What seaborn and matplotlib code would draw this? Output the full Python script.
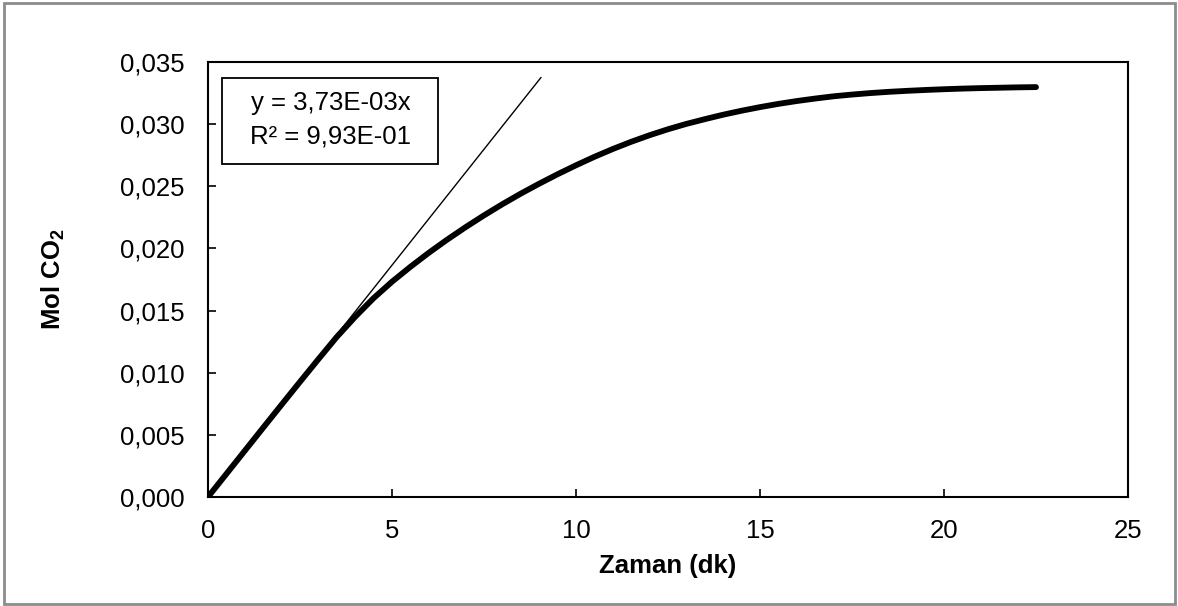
import numpy as np
import pandas as pd
import matplotlib
matplotlib.use("Agg")
import matplotlib.pyplot as plt
import seaborn as sns
from matplotlib.ticker import FuncFormatter, MultipleLocator
from matplotlib.patches import Rectangle

sns.set_theme(style="white")
plt.rcParams['font.family'] = ['Liberation Sans', 'DejaVu Sans']
plt.rcParams['mathtext.fontset'] = 'custom'
plt.rcParams['mathtext.rm'] = 'Liberation Sans'
plt.rcParams['mathtext.bf'] = 'Liberation Sans:bold'

# zaman (dk) ve mol CO2 degerleri
zaman = [0, 0.5, 1, 1.5, 2, 2.5, 3, 3.5, 4, 4.5, 5, 5.5, 6, 6.5, 7, 7.5, 8, 8.5,
         9, 9.5, 10, 10.5, 11, 11.5, 12, 12.5, 13, 13.5, 14, 14.5, 15, 15.5, 16,
         16.5, 17, 17.5, 18, 18.5, 19, 19.5, 20, 20.5, 21, 21.5, 22, 22.5]
mol_co2 = [0, 0.00186, 0.00372, 0.00558, 0.00743, 0.00927, 0.01109, 0.01288,
           0.01450, 0.01600, 0.01732, 0.01852, 0.01965, 0.02071, 0.02171,
           0.02266, 0.02356, 0.02441, 0.02521, 0.02597, 0.02669, 0.02737,
           0.02800, 0.02858, 0.02911, 0.02959, 0.03002, 0.03040, 0.03076,
           0.03108, 0.03137, 0.03163, 0.03186, 0.03206, 0.03224, 0.03238,
           0.03250, 0.03260, 0.03268, 0.03275, 0.03281, 0.03286, 0.03290,
           0.03293, 0.03296, 0.03298]

# baslangic egimi (trend cizgisi)
trend_x = [0, 9.05]
trend_y = [0, 0.03376]
denklem = ["y = 3,73E-03x", "R² = 9,93E-01"]

df = pd.DataFrame({"zaman": zaman, "mol": mol_co2})
df_trend = pd.DataFrame({"zaman": trend_x, "mol": trend_y})

W, H = 1178, 606
fig = plt.figure(figsize=(W / 100, H / 100), dpi=100)
ax = fig.add_axes([208 / W, (H - 497) / H, 920 / W, 435 / H])

sns.lineplot(data=df, x="zaman", y="mol", color="black", linewidth=4.2,
             ax=ax, solid_capstyle="round", solid_joinstyle="round")
sns.lineplot(data=df_trend, x="zaman", y="mol", color="black", linewidth=1.0, ax=ax)

ax.set_xlim(0, 25)
ax.set_ylim(0, 0.035)
ax.xaxis.set_major_locator(MultipleLocator(5))
ax.yaxis.set_major_locator(MultipleLocator(0.005))
ax.yaxis.set_major_formatter(FuncFormatter(lambda v, p: f"{v:.3f}".replace(".", ",")))
ax.tick_params(direction="in", length=6, width=1.2, color="black",
               labelsize=18.5, labelcolor="black", pad=17)
ax.tick_params(axis="x", pad=16)
ax.tick_params(bottom=True, left=True)
for s in ax.spines.values():
    s.set_color("black")
    s.set_linewidth(1.5)

ax.set_xlabel("Zaman (dk)", fontsize=18.5, fontweight="bold", color="black", labelpad=8)
ax.set_ylabel(r"Mol CO$_{\mathbf{2}}$", fontsize=18.5, fontweight="bold",
              color="black", labelpad=38)

# denklem kutusu
ax.add_patch(Rectangle((0.0153, 0.7655), 0.235, 0.198, transform=ax.transAxes,
                       fill=False, edgecolor="black", linewidth=1.3))
ax.text(0.133, 0.906, denklem[0], transform=ax.transAxes, ha="center", va="center",
        fontsize=18.5, color="black")
ax.text(0.133, 0.8276, denklem[1], transform=ax.transAxes, ha="center", va="center",
        fontsize=18.5, color="black")

# dis cerceve
fig.patches.append(Rectangle((4 / W, 2 / H), (1175 - 4) / W, (603 - 2) / H,
                             transform=fig.transFigure, fill=False,
                             edgecolor="#8c8c8c", linewidth=2))

fig.savefig("out.png", dpi=100)
